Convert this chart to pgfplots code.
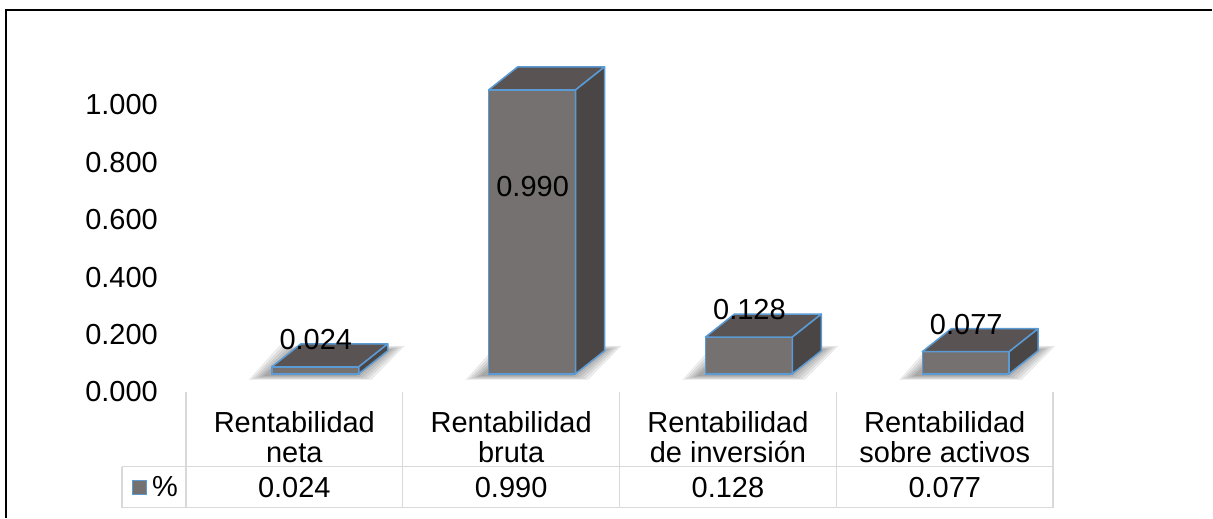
\documentclass[border=0pt]{standalone}
\usepackage{fontspec}
\setmainfont{Liberation Sans}
\usepackage{pgfplots}
\pgfplotsset{compat=1.18}
\usepackage{pgfplotstable}
\definecolor{frontgray}{HTML}{767171}
\definecolor{topgray}{HTML}{595353}
\definecolor{sidegray}{HTML}{4B4646}
\definecolor{edgeblue}{HTML}{5B9BD5}
\definecolor{gridgray}{HTML}{D9D9D9}

% x: category, v: value, ly: vertical position of the value label
\pgfplotstableread{
x v ly
0 0.024 0.1185
1 0.990 0.6516
2 0.128 0.2230
3 0.077 0.1707
}\datatable

\begin{document}
\begin{tikzpicture}
\begin{axis}[
  x=217pt, y=287pt,
  xmin=-1.35714, xmax=4.23272, ymin=-0.50174, ymax=1.30314,
  enlargelimits=false,
  axis line style={draw=none},
  major tick length=0pt,
  clip=false,
  clip mode=individual,
  font=\fontsize{29}{30}\selectfont,
  /pgf/number format/.cd, fixed, fixed zerofill, precision=3, assume math mode=true, /pgfplots/.cd,
  xtick={0,1,2,3},
  xticklabels={{Rentabilidad\\neta},{Rentabilidad\\bruta},{Rentabilidad\\de inversión},{Rentabilidad\\sobre activos}},
  xticklabel style={align=center, anchor=center, yshift=81pt, inner sep=0pt},
  ytick={0,0.2,0.4,0.6,0.8,1.0},
  yticklabel style={anchor=east, inner sep=0pt, xshift=158pt, yshift=-18pt},
  legend style={draw=none, fill=none, at={(0.1088,0.0579)}, anchor=west, inner sep=0pt,
    font=\fontsize{29}{30}\selectfont},
]
% soft floor shadows
\addplot[forget plot, scatter, only marks, mark=*, mark size=0pt,
  scatter/@pre marker code/.code={},
  scatter/@post marker code/.code={
    \foreach \s in {0,3,6,9,12,15}{
      \fill[black, opacity=0.065]
        (-30pt-\s pt,-2pt-0.25*\s pt) -- (62pt+\s pt,-2pt-0.25*\s pt)
        -- (95pt+\s pt,24pt+0.25*\s pt) -- (0pt-\s pt,24pt+0.25*\s pt) -- cycle;
    }
  }]
  table[x=x, y expr=0] {\datatable};
% front faces
\addplot[ybar, bar width=87pt, bar shift=21pt, fill=frontgray, draw=edgeblue, line width=1.5pt,
  legend image code/.code={\filldraw[fill=frontgray, draw=edgeblue, line width=1pt] (0pt,-7pt) rectangle (14pt,7pt);}]
  table[x=x, y=v] {\datatable};
\addlegendentry{\hspace{3pt}\%}
% top and side faces
\addplot[forget plot, scatter, only marks, mark=*, mark size=0pt,
  visualization depends on={\thisrow{v} \as \yv},
  scatter/@pre marker code/.code={},
  scatter/@post marker code/.code={
    \filldraw[fill=topgray, draw=edgeblue, line width=1.5pt, line join=round]
      (-22.5pt,0pt) -- (64.5pt,0pt) -- (93.5pt,23pt) -- (6.5pt,23pt) -- cycle;
    \filldraw[fill=sidegray, draw=edgeblue, line width=1.5pt, line join=round]
      (64.5pt,0pt) -- (93.5pt,23pt) -- ([xshift=93.5pt,yshift=23pt]axis direction cs:0,-\yv)
      -- ([xshift=64.5pt]axis direction cs:0,-\yv) -- cycle;
  }]
  table[x=x, y=v] {\datatable};
% value labels on bars
\addplot[forget plot, draw=none, mark=none, nodes near coords, point meta=explicit,
  every node near coord/.append style={anchor=center, xshift=21.5pt, inner sep=0pt, text=black}]
  table[x=x, y=ly, meta=v] {\datatable};
% data table row
\addplot[forget plot, draw=none, mark=none, nodes near coords, point meta=explicit,
  every node near coord/.append style={anchor=center, inner sep=0pt, text=black}]
  table[x=x, y expr=-0.3972, meta=v] {\datatable};
\end{axis}
\begin{scope}[shift={(current axis.north west)}, x=1pt, y=-1pt]
  \draw[black, line width=2pt] (5.5,518) -- (5.5,10) -- (1213,10);
  \draw[gridgray, line width=1.5pt] (122,467) -- (1054,467) (122,508) -- (1054,508) (122,467) -- (122,508);
  \foreach \xx in {186,403,620,837,1054} \draw[gridgray, line width=1.5pt] (\xx,392) -- (\xx,508);
\end{scope}
\end{tikzpicture}
\end{document}
